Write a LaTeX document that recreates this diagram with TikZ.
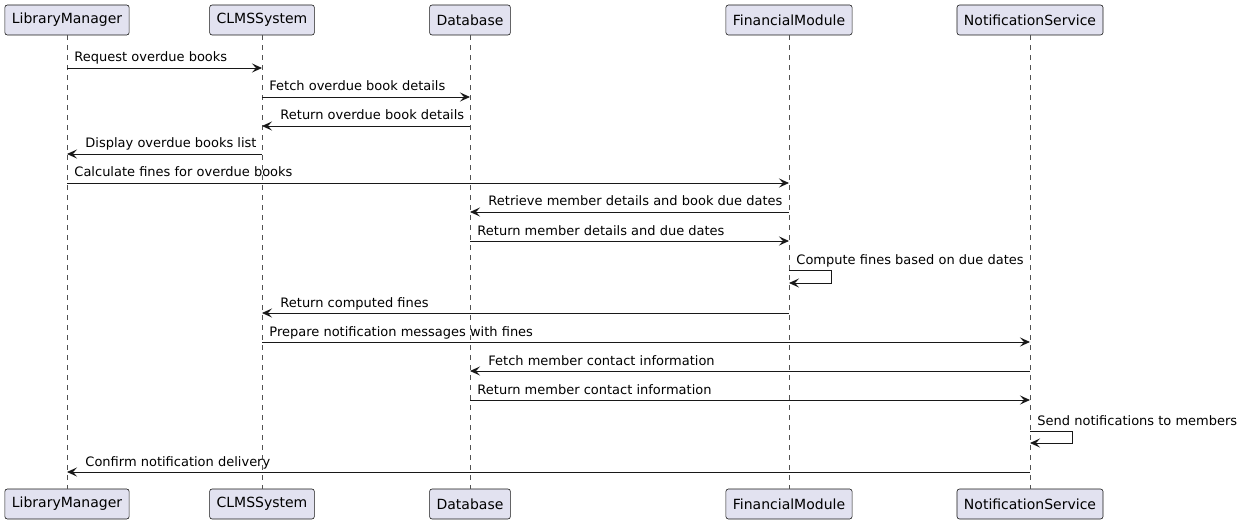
\documentclass[tikz,border=0pt]{standalone}
\usepackage{fontspec}
\setmainfont{DejaVu Sans}
\usetikzlibrary{arrows.meta}
\definecolor{partfill}{HTML}{E2E2F0}
\definecolor{umlline}{HTML}{181818}
\begin{document}
\begin{tikzpicture}[x=1pt,y=-1pt]
	\tikzstyle{part}=[draw=umlline,fill=partfill,rounded corners=2.5pt,line width=.6pt,minimum height=30pt,inner xsep=7pt,font=\fontsize{14}{16}\selectfont];
	\tikzstyle{life}=[draw=umlline!75,line width=.6pt,dash pattern=on 5pt off 5pt];
	\tikzstyle{msg}=[draw=umlline,line width=.9pt,-{Stealth[length=10pt,width=9pt,inset=4pt]}];
	\tikzstyle{rl}=[pos=0,anchor=base west,inner sep=0pt,xshift=7pt,yshift=6pt,font=\fontsize{13}{15}\selectfont];
	\tikzstyle{ll}=[pos=1,anchor=base west,inner sep=0pt,xshift=18pt,yshift=6pt,font=\fontsize{13}{15}\selectfont];
	\useasboundingbox (0,0) rectangle (1243,524);
	\node[part] (lmT) at (67,20) {LibraryManager};
	\node[part] (clT) at (262,20) {CLMSSystem};
	\node[part] (dbT) at (470,20) {Database};
	\node[part] (fmT) at (789,20) {FinancialModule};
	\node[part] (nsT) at (1030,20) {NotificationService};
	\node[part] (lmB) at (67,504) {LibraryManager};
	\node[part] (clB) at (262,504) {CLMSSystem};
	\node[part] (dbB) at (470,504) {Database};
	\node[part] (fmB) at (789,504) {FinancialModule};
	\node[part] (nsB) at (1030,504) {NotificationService};
	\draw[life] (lmT) -- (lmB);
	\draw[life] (clT) -- (clB);
	\draw[life] (dbT) -- (dbB);
	\draw[life] (fmT) -- (fmB);
	\draw[life] (nsT) -- (nsB);
	\draw[msg] (lmT |- 0,68) -- (clT |- 0,68) node[rl] {Request overdue books};
	\draw[msg] (clT |- 0,97) -- (dbT |- 0,97) node[rl] {Fetch overdue book details};
	\draw[msg] (dbT |- 0,126) -- (clT |- 0,126) node[ll] {Return overdue book details};
	\draw[msg] (clT |- 0,154) -- (lmT |- 0,154) node[ll] {Display overdue books list};
	\draw[msg] (lmT |- 0,183) -- (fmT |- 0,183) node[rl] {Calculate fines for overdue books};
	\draw[msg] (fmT |- 0,212) -- (dbT |- 0,212) node[ll] {Retrieve member details and book due dates};
	\draw[msg] (dbT |- 0,241) -- (fmT |- 0,241) node[rl] {Return member details and due dates};
	\draw[msg] (fmT |- 0,270) -- ++(42,0) node[rl] {Compute fines based on due dates} -- ++(0,13) -- (fmT |- 0,283);
	\draw[msg] (fmT |- 0,313) -- (clT |- 0,313) node[ll] {Return computed fines};
	\draw[msg] (clT |- 0,342) -- (nsT |- 0,342) node[rl] {Prepare notification messages with fines};
	\draw[msg] (nsT |- 0,371) -- (dbT |- 0,371) node[ll] {Fetch member contact information};
	\draw[msg] (dbT |- 0,400) -- (nsT |- 0,400) node[rl] {Return member contact information};
	\draw[msg] (nsT |- 0,431) -- ++(42,0) node[rl] {Send notifications to members} -- ++(0,12) -- (nsT |- 0,443);
	\draw[msg] (nsT |- 0,472) -- (lmT |- 0,472) node[ll] {Confirm notification delivery};
\end{tikzpicture}
\end{document}
